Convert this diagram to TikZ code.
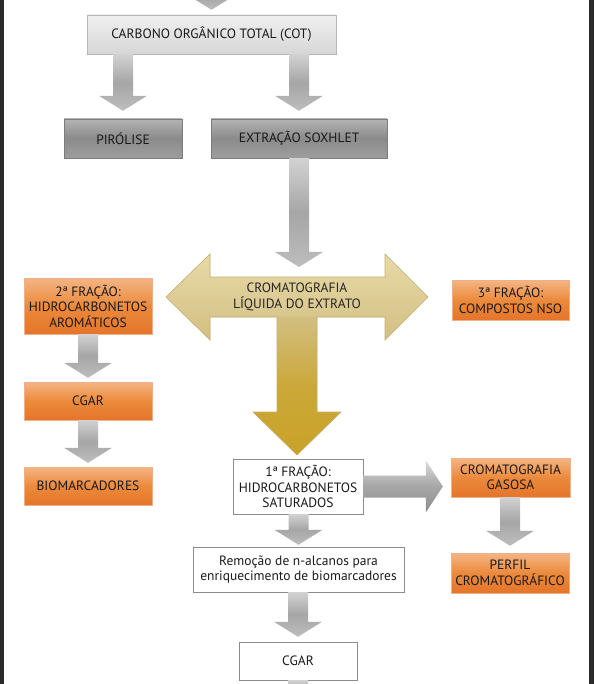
\documentclass[tikz,border=0pt]{standalone}
\usepackage{fontspec}
\setmainfont{PT Sans}
\usetikzlibrary{calc}
\definecolor{edgedark}{HTML}{2B2B2B}
\definecolor{txt}{HTML}{1A1A1A}
\definecolor{ltop}{HTML}{F0F0F0}
\definecolor{lbot}{HTML}{D6D6D6}
\definecolor{dtop}{HTML}{B4B4B4}
\definecolor{dmid}{HTML}{8A8A8A}
\definecolor{dbot}{HTML}{9E9E9E}
\definecolor{otop}{HTML}{F4B584}
\definecolor{omid}{HTML}{EC8A3C}
\definecolor{obot}{HTML}{E4752A}
\definecolor{oline}{HTML}{EDB088}
\definecolor{atop}{HTML}{D2D2D2}
\definecolor{amid}{HTML}{A6A6A6}
\definecolor{abot}{HTML}{BDBDBD}
\definecolor{khtop}{HTML}{E8DAA8}
\definecolor{khbot}{HTML}{D2BF82}
\definecolor{gold}{HTML}{C9A227}
\definecolor{khline}{HTML}{C4B172}
\newcommand\varrow[2]{%
  \shade[garrow] let \p1=#1, \p2=#2 in
    (\x2-10pt,\y1) -- (\x2+10pt,\y1) -- (\x2+10pt,\y2+15pt) -- (\x2+24pt,\y2+15pt)
    -- (\x2,\y2) -- (\x2-24pt,\y2+15pt) -- (\x2-10pt,\y2+15pt) -- cycle;}
\newcommand\harrow[2]{%
  \shade[garrowh] let \p1=#1, \p2=#2 in
    (\x1,\y1+11pt) -- (\x2-17pt,\y1+11pt) -- (\x2-17pt,\y1+26pt) -- (\x2,\y1)
    -- (\x2-17pt,\y1-26pt) -- (\x2-17pt,\y1-11pt) -- (\x1,\y1-11pt) -- cycle;}
\begin{document}
\begin{tikzpicture}[x=1pt,y=-1pt,
  every node/.style={text=txt, font=\fontsize{13.5}{15.5}\selectfont, align=center, inner sep=0pt},
  lightbox/.style={draw=lbot!85!black, top color=ltop, bottom color=lbot, rectangle},
  darkbox/.style={draw=dmid!90!black, top color=dtop, bottom color=dbot, middle color=dmid, rectangle},
  orangebox/.style={draw=oline, top color=otop, bottom color=obot, middle color=omid, rectangle},
  whitebox/.style={draw=black!45, fill=white, rectangle},
  garrow/.style={top color=atop, bottom color=abot, middle color=amid},
  garrowh/.style={top color=atop!80!white, bottom color=amid!85!black, middle color=amid}]
\useasboundingbox (0,0) rectangle (594,684);
\fill[white] (0,0) rectangle (594,684);
\fill[edgedark] (0,0) rectangle (4,684);
\fill[edgedark] (589,0) rectangle (594,684);

% boxes
\node[lightbox, minimum width=249pt, minimum height=39pt] (cot) at (211.5,34.5) {CARBONO ORGÂNICO TOTAL (COT)};
\node[darkbox, minimum width=118pt, minimum height=39pt] (pir) at (123,138.5) {PIRÓLISE};
\node[darkbox, minimum width=176pt, minimum height=39pt] (sox) at (299,138.5) {EXTRAÇÃO SOXHLET};
\node[orangebox, minimum width=128pt, minimum height=56pt] (frac2) at (88,306) {2ª FRAÇÃO:\\HIDROCARBONETOS\\AROMÁTICOS};
\node[orangebox, minimum width=128pt, minimum height=38pt] (cgarl) at (88,401) {CGAR};
\node[orangebox, minimum width=128pt, minimum height=38pt] (bio) at (88,486) {BIOMARCADORES};
\node[orangebox, minimum width=117pt, minimum height=40pt] (frac3) at (510.5,300) {3ª FRAÇÃO:\\COMPOSTOS NSO};
\node[orangebox, minimum width=119pt, minimum height=39pt] (gas) at (510.5,477.5) {CROMATOGRAFIA\\GASOSA};
\node[orangebox, minimum width=118pt, minimum height=40pt] (perf) at (510,573) {PERFIL\\CROMATOGRÁFICO};
\node[whitebox, minimum width=130pt, minimum height=55pt] (frac1) at (298,486.5) {1ª FRAÇÃO:\\HIDROCARBONETOS\\SATURADOS};
\node[whitebox, minimum width=211pt, minimum height=45pt] (rem) at (298.5,569.5) {Remoção de n-alcanos para\\enriquecimento de biomarcadores};
\node[whitebox, minimum width=118pt, minimum height=38pt] (cgarb) at (298,661) {CGAR};

% golden T arrow
\coordinate (tc) at (297,297);
\fill[khbot] (166,297) -- (210,254) -- (210,277) -- (385,277) -- (385,254) -- (428,297)
  -- (385,340) -- (385,317) -- (317,317) -- (317,412) -- (341,412) -- (297,455)
  -- (253,412) -- (277,412) -- (277,317) -- (210,317) -- (210,340) -- cycle;
\shade[top color=khtop, bottom color=khbot] (166,297) -- (210,254) -- (210,277) -- (385,277) -- (385,254) -- (428,297)
  -- (385,340) -- (385,317) -- (210,317) -- (210,340) -- cycle;
\shade[top color=khbot, bottom color=gold, middle color=gold!80!khbot] (277,316.5) -- (317,316.5) -- (317,412) -- (341,412) -- (297,455)
  -- (253,412) -- (277,412) -- cycle;
\draw[khline, line width=0.6pt, line join=miter] (166,297) -- (210,254) -- (210,277) -- (385,277) -- (385,254) -- (428,297)
  -- (385,340) -- (385,317) -- (317,317) -- (317,412) -- (341,412) -- (297,455)
  -- (253,412) -- (277,412) -- (277,317) -- (210,317) -- (210,340) -- cycle;
\node[text=black!85] (clq) at (tc) {CROMATOGRAFIA\\LÍQUIDA DO EXTRATO};

% gray arrows
\coordinate (topstart) at (211.5,-15);
\coordinate (ttip) at (299,267);
\coordinate (botend) at (298,700);
\varrow{(topstart)}{([yshift=5pt]cot.north)}
\varrow{(cot.south -| pir.north)}{([yshift=8pt]pir.north)}
\varrow{(cot.south -| sox.north)}{([yshift=8pt]sox.north)}
\varrow{(sox.south)}{(ttip)}
\varrow{(frac2.south)}{([yshift=4pt]cgarl.north)}
\varrow{(cgarl.south)}{([yshift=4pt]bio.north)}
\varrow{(gas.south)}{([yshift=7pt]perf.north)}
\varrow{(frac1.south)}{([yshift=2pt]rem.north)}
\varrow{(rem.south)}{([yshift=5pt]cgarb.north)}
\varrow{(cgarb.south)}{(botend)}
\harrow{(frac1.east)}{([xshift=-8pt]gas.west |- frac1.east)}
\end{tikzpicture}
\end{document}
